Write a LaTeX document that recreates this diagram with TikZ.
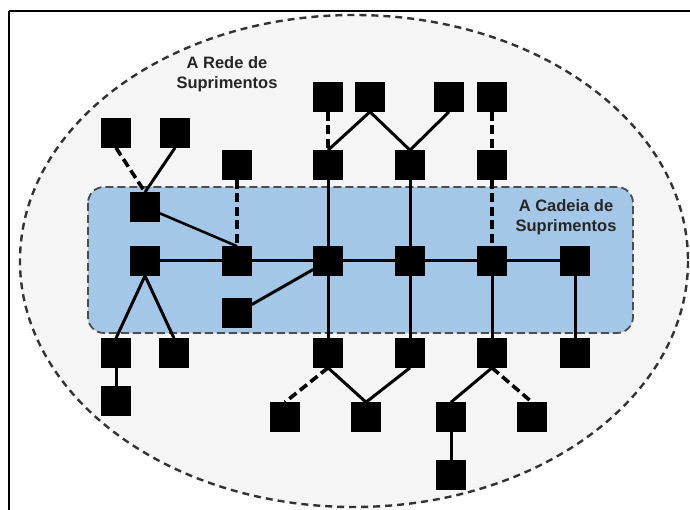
\documentclass[tikz,border=0pt]{standalone}
\usepackage{fontspec}
\setmainfont{Liberation Sans}
\begin{document}
\begin{tikzpicture}[x=1pt,y=-1pt,
  sq/.style={draw=black!85,fill=black,minimum size=29pt,inner sep=0pt,line width=0.6pt},
  link/.style={line width=3pt,draw=black},
  dlink/.style={line width=3.2pt,draw=black,dash pattern=on 9pt off 4.5pt},
  lbl/.style={font=\bfseries\fontsize{16.5}{20}\selectfont,text=black!85,align=center}]
\useasboundingbox (0,0) rectangle (690,510);
\draw[line width=2.2pt] (9,11) -- (9,520);
\draw[line width=2.2pt] (9,11) -- (700,11);
\filldraw[fill=black!4,draw=black!80,line width=2.4pt,dash pattern=on 7pt off 5pt] (354,261) ellipse [x radius=334,y radius=246];
\filldraw[fill={rgb,255:red,164;green,199;blue,232},draw=black!70,line width=1.8pt,dash pattern=on 8pt off 4pt,rounded corners=16pt] (88,187) rectangle (633,333);
\node[lbl] (rede) at (227,74) {A Rede de\\Suprimentos};
\node[lbl] (cadeia) at (566,217) {A Cadeia de\\Suprimentos};
% nodes
\node[sq] (a1) at (116,133) {};
\node[sq] (a2) at (175,133) {};
\node[sq] (t1) at (328,97) {};
\node[sq] (t2) at (370,97) {};
\node[sq] (t3) at (449,97) {};
\node[sq] (t4) at (492,97) {};
\node[sq] (b1) at (237,165) {};
\node[sq] (b2) at (328,165) {};
\node[sq] (b3) at (410,165) {};
\node[sq] (b4) at (492,165) {};
\node[sq] (c1) at (145,207) {};
\node[sq] (m1) at (145,261) {};
\node[sq] (m2) at (237,261) {};
\node[sq] (m3) at (328,261) {};
\node[sq] (m4) at (410,261) {};
\node[sq] (m5) at (492,261) {};
\node[sq] (m6) at (575,261) {};
\node[sq] (d1) at (237,313) {};
\node[sq] (e1) at (116,353) {};
\node[sq] (e2) at (174,353) {};
\node[sq] (e3) at (328,353) {};
\node[sq] (e4) at (410,353) {};
\node[sq] (e5) at (492,353) {};
\node[sq] (e6) at (575,353) {};
\node[sq] (f1) at (116,401) {};
\node[sq] (g1) at (285,417) {};
\node[sq] (g2) at (366,417) {};
\node[sq] (g3) at (451,417) {};
\node[sq] (g4) at (532,417) {};
\node[sq] (h1) at (451,475) {};
% edges
\draw[dlink,line width=3.6pt] (a1.south) -- (c1.north);
\draw[link] (a2.south) -- (c1.north);
\draw[link,line width=2.6pt] (c1) -- (m2.north);
\draw[dlink] (b1) -- (m2);
\draw[dlink] (t1) -- (b2);
\draw[link] (t2.south) -- (b2.north);
\draw[link] (t2.south) -- (b3.north);
\draw[link] (t3.south) -- (b3.north);
\draw[dlink] (t4) -- (b4);
\draw[link] (b2) -- (m3);
\draw[link] (b3) -- (m4);
\draw[dlink] (b4) -- (m5);
\draw[link] (m1) -- (m2) -- (m3) -- (m4) -- (m5) -- (m6);
\draw[link] (d1) -- (m3);
\draw[link] (m1.south) -- (e1.north);
\draw[link] (m1.south) -- (e2.north);
\draw[link] (e1) -- (f1);
\draw[link] (m3) -- (e3);
\draw[link] (m4) -- (e4);
\draw[link] (m5) -- (e5);
\draw[link] (m6) -- (e6);
\draw[dlink,line width=3.6pt] (e3.south) -- (g1.north);
\draw[link] (e3.south) -- (g2.north);
\draw[link] (e4.south) -- (g2.north);
\draw[link] (e5.south) -- (g3.north);
\draw[dlink,line width=3.6pt] (e5.south) -- (g4.north);
\draw[link] (g3) -- (h1);
% squares on top of the connectors
\foreach \n in {a1,a2,t1,t2,t3,t4,b1,b2,b3,b4,c1,m1,m2,m3,m4,m5,m6,d1,e1,e2,e3,e4,e5,e6,f1,g1,g2,g3,g4,h1}
  \fill[black] (\n.south west) rectangle (\n.north east);
\end{tikzpicture}
\end{document}
